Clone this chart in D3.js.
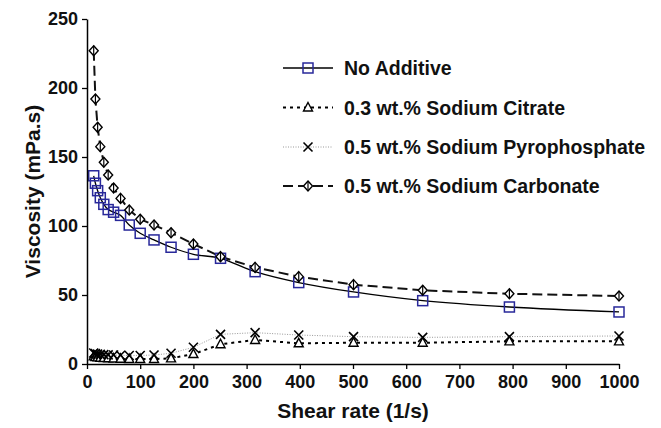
<!DOCTYPE html>
<html>
<head>
<meta charset="utf-8">
<script src="https://cdn.jsdelivr.net/npm/d3@7"></script>
<style>
  body { margin: 0; background: #fff; }
  text { font-family: "Liberation Sans", Arial, sans-serif; font-weight: bold; }
</style>
</head>
<body>
<div id="vis"></div>
<script>
var width = 661;
var height = 428;
var margin = {top : 19, right : 42, bottom : 64, left : 87 };

// DATA
var shearRate = [12.6, 15.8, 20, 25, 31.6, 39.8, 50, 63.1, 79.4, 100, 126, 158, 200, 251, 316, 398, 501, 631, 794, 1000];
var noAdditive = [136.4, 131, 125.6, 120.5, 115.7, 111.9, 110, 107.7, 100.7, 94.7, 89.9, 84.6, 79.5, 76.6, 66.9, 59, 52.2, 45.9, 41.3, 37.7];
var sodiumCitrate = [5.5, 5, 4.8, 4.5, 4.3, 4.2, 4, 3.8, 3.6, 3.6, 3.6, 4.1, 7.2, 14.3, 17.4, 15, 15.4, 15.4, 16.4, 16.4];
var sodiumPyro = [8, 7.5, 7.2, 7, 6.8, 6.6, 6.5, 6.3, 6.2, 6.2, 6.5, 7.8, 12.1, 21.5, 22.7, 21, 19.8, 19.3, 19.8, 20.3];
var sodiumCarbonate = [227, 192, 171.5, 157.5, 146.2, 137, 127.5, 120, 111.6, 104.9, 100.7, 95.1, 87, 77.8, 70, 63.3, 57.5, 53.4, 50.9, 49.3];
var seriesNames = ["No Additive", "0.3 wt.% Sodium Citrate", "0.5 wt.% Sodium Pyrophosphate", "0.5 wt.% Sodium Carbonate"];
var xTicks = [0, 100, 200, 300, 400, 500, 600, 700, 800, 900, 1000];
var yTicks = [0, 50, 100, 150, 200, 250];

var vg_width = width - margin.left - margin.right;
var vg_height = height - margin.top - margin.bottom;

var x_scale = d3.scaleLinear().domain([0, 1000]).range([margin.left, margin.left + vg_width]);
var y_scale = d3.scaleLinear().domain([0, 250]).range([margin.top + vg_height, margin.top]);

// line and marker style for each series
var styles = [
  {values: noAdditive, stroke: "#000", width: 1.3, dash: null, curve: d3.curveCatmullRom, marker: "square", mcolor: "#28289a"},
  {values: sodiumCitrate, stroke: "#000", width: 2, dash: "3,4", curve: d3.curveLinear, marker: "triangle", mcolor: "#000"},
  {values: sodiumPyro, stroke: "#999", width: 1, dash: "1,1.5", curve: d3.curveLinear, marker: "cross", mcolor: "#000"},
  {values: sodiumCarbonate, stroke: "#111", width: 2, dash: "10,5", curve: d3.curveLinear, marker: "diamond", mcolor: "#000"}
];

function getPoints(values){
  var pts = [];
  for (var i = 0; i < shearRate.length; i++){
    pts.push({x: shearRate[i], y: values[i]});
  }
  return pts;
}

// draws one marker centred at cx, cy
function drawMarker(g, kind, cx, cy, color){
  if (kind == "square"){
    g.append("rect").attr("x", cx - 5).attr("y", cy - 5).attr("width", 10).attr("height", 10)
      .attr("fill", "none").attr("stroke", color).attr("stroke-width", 1.5);
  } else if (kind == "triangle"){
    g.append("path").attr("d", "M" + cx + "," + (cy - 5) + "L" + (cx + 4.5) + "," + (cy + 3.5) + "L" + (cx - 4.5) + "," + (cy + 3.5) + "Z")
      .attr("fill", "#fff").attr("stroke", color).attr("stroke-width", 1.4);
  } else if (kind == "cross"){
    g.append("path").attr("d", "M" + (cx - 4.5) + "," + (cy - 4.5) + "L" + (cx + 4.5) + "," + (cy + 4.5) + "M" + (cx + 4.5) + "," + (cy - 4.5) + "L" + (cx - 4.5) + "," + (cy + 4.5))
      .attr("fill", "none").attr("stroke", color).attr("stroke-width", 1.6);
  } else {
    g.append("path").attr("d", "M" + cx + "," + (cy - 5) + "L" + (cx + 4.5) + "," + cy + "L" + cx + "," + (cy + 5) + "L" + (cx - 4.5) + "," + cy + "Z")
      .attr("fill", "#fff").attr("stroke", color).attr("stroke-width", 1.4);
    g.append("line").attr("x1", cx).attr("x2", cx).attr("y1", cy - 5).attr("y2", cy + 5)
      .attr("stroke", color).attr("stroke-width", 1.2);
  }
}

var chart = d3.select("#vis").append("svg").attr("width", width).attr("height", height);

// lines
styles.forEach(function(s){
  var line = d3.line().x(function(d){ return x_scale(d.x); }).y(function(d){ return y_scale(d.y); }).curve(s.curve);
  chart.append("path").datum(getPoints(s.values))
    .attr("d", line)
    .attr("fill", "none")
    .attr("stroke", s.stroke)
    .attr("stroke-width", s.width)
    .attr("stroke-dasharray", s.dash);
});

// markers
styles.forEach(function(s){
  var g = chart.append("g");
  getPoints(s.values).forEach(function(p){
    drawMarker(g, s.marker, x_scale(p.x), y_scale(p.y), s.mcolor);
  });
});

// axes
var X = d3.axisBottom(x_scale).tickValues(xTicks).tickFormat(d3.format("d")).tickSizeInner(5).tickSizeOuter(0).tickPadding(6);
var Y = d3.axisLeft(y_scale).tickValues(yTicks).tickFormat(d3.format("d")).tickSizeInner(5).tickSizeOuter(0).tickPadding(4);

var gx = chart.append("g").attr("transform", "translate(0," + (margin.top + vg_height) + ")").call(X);
var gy = chart.append("g").attr("transform", "translate(" + margin.left + ",0)").call(Y);
[gx, gy].forEach(function(g){
  g.select(".domain").attr("stroke", "#000").attr("stroke-width", 1.5);
  g.selectAll(".tick line").attr("stroke", "#000").attr("stroke-width", 1.3);
  g.selectAll(".tick text").attr("fill", "#111").style("font-size", "18px").style("font-family", "Liberation Sans, Arial, sans-serif").style("font-weight", "bold");
});

// axis titles
chart.append("text")
  .attr("x", x_scale(500)).attr("y", 418)
  .attr("text-anchor", "middle")
  .style("font-size", "21px").attr("fill", "#111")
  .text("Shear rate (1/s)");
chart.append("text")
  .attr("transform", "translate(40," + y_scale(125) + ") rotate(-90)")
  .attr("text-anchor", "middle")
  .style("font-size", "21px").attr("fill", "#111")
  .text("Viscosity (mPa.s)");

// legend
var legendY = [68, 107.5, 147, 186];
styles.forEach(function(s, i){
  var lg = chart.append("g");
  lg.append("line").attr("x1", 283).attr("x2", 333).attr("y1", legendY[i]).attr("y2", legendY[i])
    .attr("stroke", s.stroke).attr("stroke-width", s.width).attr("stroke-dasharray", s.dash);
  drawMarker(lg, s.marker, 308, legendY[i], s.mcolor);
  lg.append("text").attr("x", 344).attr("y", legendY[i] + 7)
    .style("font-size", "19.5px").attr("fill", "#111")
    .text(seriesNames[i]);
});
</script>
</body>
</html>
